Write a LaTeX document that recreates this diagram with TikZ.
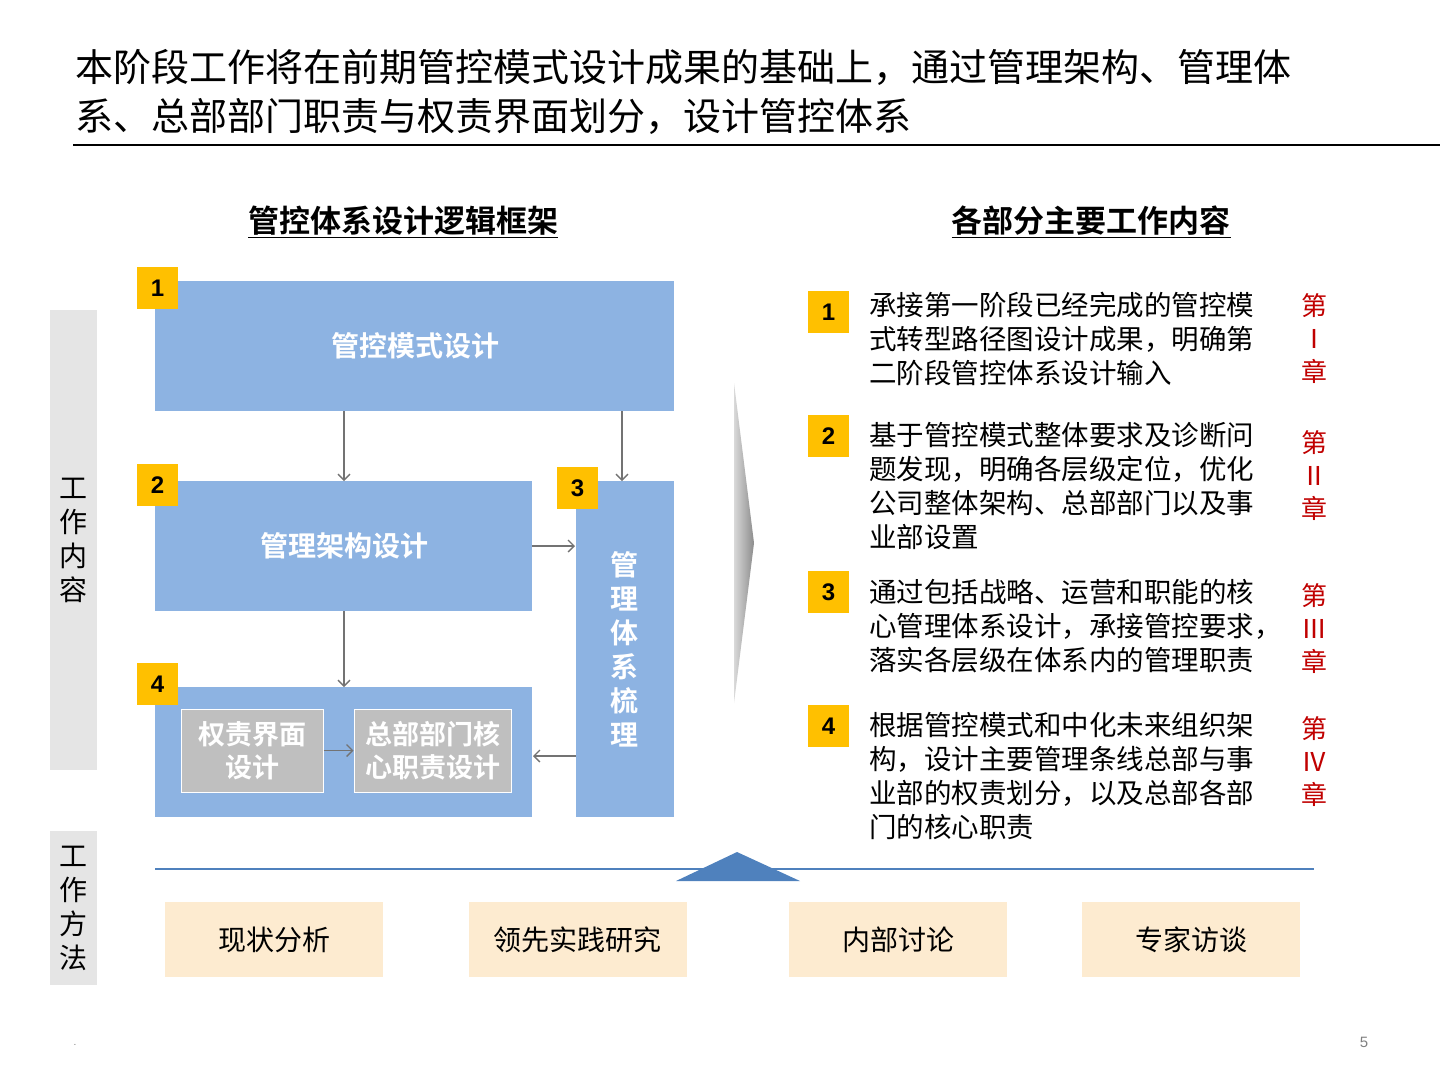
\documentclass[tikz,border=0pt]{standalone}
\usepackage{fontspec}
\setmainfont{Liberation Sans}
\newfontfamily\cjk{Noto Sans CJK SC}
\newfontfamily\cjkb{Noto Sans CJK SC Bold}
\usetikzlibrary{arrows.meta}
\definecolor{bluebox}{HTML}{8DB3E2}
\definecolor{badge}{HTML}{FFC000}
\definecolor{redc}{HTML}{C00000}
\definecolor{peach}{HTML}{FDEBD0}
\definecolor{lineb}{HTML}{4F81BD}
\tikzset{
  bx/.style={fill=bluebox,draw=none},
  bd/.style={fill=badge,text=black,font=\fontsize{24}{24}\selectfont\bfseries,inner sep=0pt,minimum width=41pt,minimum height=42pt},
  lab/.style={text=white,font=\fontsize{28}{34}\selectfont\cjkb,align=center},
  gbx/.style={fill=black!25,draw=white,line width=1pt,text=white,font=\fontsize{27}{33}\selectfont\cjkb,align=center,inner sep=0pt},
  ar/.style={draw=black!55,line width=1.3pt,-{Straight Barb[length=6pt,width=12pt]}},
  rt/.style={anchor=north west,align=left,font=\fontsize{27.5}{34}\selectfont\cjk,inner sep=0pt},
  ch/.style={text=redc,align=center,font=\fontsize{26}{33}\selectfont\cjk,inner sep=0pt},
  pb/.style={fill=peach,font=\fontsize{28}{28}\selectfont\cjk,minimum width=218pt,minimum height=75pt,inner sep=0pt},
  gbar/.style={fill=black!10,font=\fontsize{28}{34}\selectfont\cjk,align=center,inner sep=0pt}
}
\begin{document}
\begin{tikzpicture}[x=1pt,y=-1pt]
\useasboundingbox (0,0) rectangle (1440,1080);
\node[anchor=west,align=left,font=\fontsize{38}{49}\selectfont\cjk,inner sep=0pt] (title) at (75,92) {本阶段工作将在前期管控模式设计成果的基础上，通过管理架构、管理体\\系、总部部门职责与权责界面划分，设计管控体系};
\draw[line width=1.5pt] (73,145) coordinate (r1) -- (1440,145) coordinate (r2);
\node[font=\fontsize{31}{31}\selectfont\cjkb] (h1) at (403,222) {\underline{管控体系设计逻辑框架}};
\node[font=\fontsize{31}{31}\selectfont\cjkb] (h2) at (1091,222) {\underline{各部分主要工作内容}};
% left bars
\fill[black!10] (50,310) rectangle (97,770);
\node[font=\fontsize{28}{34}\selectfont\cjk,align=center] (wn) at (73,540) {工\\作\\内\\容};
\fill[black!10] (50,831) rectangle (97,985);
\node[font=\fontsize{28}{34}\selectfont\cjk,align=center] (wf) at (73,908) {工\\作\\方\\法};
% boxes
\fill[bluebox] (155,281) rectangle (674,411);
\node[lab] (b1) at (415,346) {管控模式设计};
\fill[bluebox] (155,481) rectangle (532,611);
\node[lab] (b2) at (344,546) {管理架构设计};
\fill[bluebox] (576,481) rectangle (674,817);
\node[lab] (b3) at (624,649) {管\\理\\体\\系\\梳\\理};
\fill[bluebox] (155,687) rectangle (532,817);
\node[gbx,minimum width=142pt,minimum height=83pt] (g1) at (252,750.5) {权责界面\\设计};
\node[gbx,minimum width=157pt,minimum height=83pt] (g2) at (432.5,750.5) {总部部门核\\心职责设计};
\node[bd] (n1) at (157.5,288) {1};
\node[bd] (n2) at (157.5,485) {2};
\node[bd] (n3) at (577.5,488) {3};
\node[bd] (n4) at (157.5,684) {4};
\coordinate (a1) at (344,411); \coordinate (a1e) at (344,481);
\coordinate (a2) at (622,411); \coordinate (a2e) at (622,481);
\coordinate (a3) at (532,546); \coordinate (a3e) at (575,546);
\coordinate (a4) at (344,611); \coordinate (a4e) at (344,687);
\coordinate (a6) at (576,756); \coordinate (a6e) at (533,756);
\draw[ar] (a1) -- (a1e);
\draw[ar] (a2) -- (a2e);
\draw[ar] (a3) -- (a3e);
\draw[ar] (a4) -- (a4e);
\draw[ar] (g1) -- (g2);
\draw[ar] (a6) -- (a6e);
% chevron
\shade[left color=black!15,right color=black!45] (734,383) -- (754,543) -- (734,703) -- cycle;
% right list
\node[bd] (m1) at (828.5,312) {1};
\node[bd] (m2) at (828.5,436) {2};
\node[bd] (m3) at (828.5,592) {3};
\node[bd] (m4) at (828.5,726) {4};
\node[rt] (t1) at (869,292) {承接第一阶段已经完成的管控模\\式转型路径图设计成果，明确第\\二阶段管控体系设计输入};
\node[rt] (t2) at (869,422) {基于管控模式整体要求及诊断问\\题发现，明确各层级定位，优化\\公司整体架构、总部部门以及事\\业部设置};
\node[rt] (t3) at (869,579) {通过包括战略、运营和职能的核\\心管理体系设计，承接管控要求，\\落实各层级在体系内的管理职责};
\node[rt] (t4) at (869,712) {根据管控模式和中化未来组织架\\构，设计主要管理条线总部与事\\业部的权责划分，以及总部各部\\门的核心职责};
\node[ch] (c1) at (1314,339) {第\\Ⅰ\\章};
\node[ch] (c2) at (1314,476) {第\\Ⅱ\\章};
\node[ch] (c3) at (1314,629) {第\\Ⅲ\\章};
\node[ch] (c4) at (1314,762) {第\\Ⅳ\\章};
% bottom
\draw[lineb,line width=2pt] (155,869) coordinate (l1) -- (1314,869) coordinate (l2);
\fill[lineb] (676,881) -- (737,852) -- (800,881) -- cycle;
\node[pb] (p1) at (274,939.5) {现状分析};
\node[pb] (p2) at (577.5,939.5) {领先实践研究};
\node[pb] (p3) at (898,939.5) {内部讨论};
\node[pb] (p4) at (1191,939.5) {专家访谈};
\node[text=black!50,font=\fontsize{15}{15}\selectfont] (pg) at (1364,1042) {5};
\node[text=black!50,font=\fontsize{10}{10}\selectfont] (dot) at (75,1045) {.};
\end{tikzpicture}
\end{document}
